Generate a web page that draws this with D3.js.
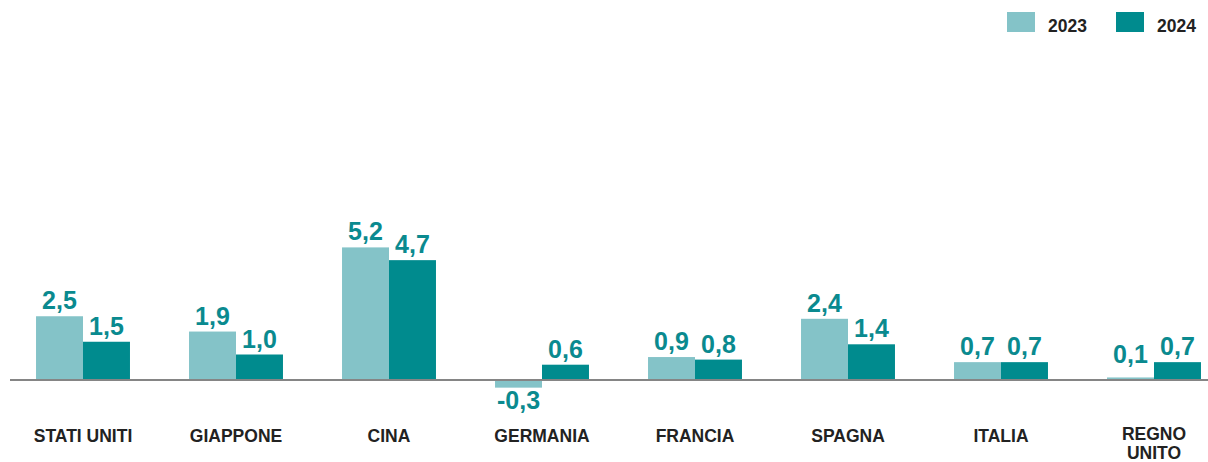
<!DOCTYPE html>
<html><head><meta charset="utf-8">
<script src="https://cdn.jsdelivr.net/npm/d3@7"></script>
<style>
html,body{margin:0;padding:0;background:#fff;}
svg{display:block;font-family:"Liberation Sans",Arial,Helvetica,sans-serif;}
</style></head>
<body>
<svg id="chart" width="1208" height="462"></svg>
<script>
const categories = ["STATI UNITI","GIAPPONE","CINA","GERMANIA","FRANCIA","SPAGNA","ITALIA","REGNO UNITO"];
const seriesNames = ["2023","2024"];
const values2023 = [2.5, 1.9, 5.2, -0.3, 0.9, 2.4, 0.7, 0.1];
const values2024 = [1.5, 1.0, 4.7, 0.6, 0.8, 1.4, 0.7, 0.7];

const colors = {"2023":"#84c3c8","2024":"#008b8e"};
const labelColor = "#0a8a8f";
const textColor = "#222222";

const svg = d3.select("#chart");

const x = d3.scaleBand().domain(categories).range([6.5, 1230.5]).paddingInner(0.386).paddingOuter(0.193);
const xs = d3.scaleBand().domain(seriesNames).range([0, x.bandwidth()]);
const y = d3.scaleLinear().domain([-1, 6]).range([405.5, 227]);

const data = categories.map((c,i)=>({cat:c, vals:[{s:"2023",v:values2023[i]},{s:"2024",v:values2024[i]}]}));

const fmt = v => d3.format(".1f")(v).replace(".", ",").replace("−","-");

const g = svg.selectAll("g.grp").data(data).join("g")
  .attr("class","grp")
  .attr("transform", d=>`translate(${x(d.cat)},0)`);

g.selectAll("rect").data(d=>d.vals).join("rect")
  .attr("x", d=>xs(d.s))
  .attr("width", xs.bandwidth())
  .attr("y", d=>Math.min(y(d.v), y(0)))
  .attr("height", d=>Math.abs(y(d.v)-y(0)))
  .attr("fill", d=>colors[d.s]);

g.selectAll("text.val").data(d=>d.vals).join("text")
  .attr("class","val")
  .attr("x", d=>xs(d.s)+xs.bandwidth()/2)
  .attr("y", d=> d.v>=0 ? Math.min(y(d.v)-7, y(0)-17) : y(d.v)+21)
  .attr("text-anchor","middle")
  .attr("font-size", 25)
  .attr("font-weight","bold")
  .attr("fill", labelColor)
  .text(d=>fmt(d.v));

// baseline
svg.append("line")
  .attr("x1", 10).attr("x2", 1208)
  .attr("y1", y(0)).attr("y2", y(0))
  .attr("stroke", "#858585").attr("stroke-width", 2);

// category labels
const xAxis = d3.axisBottom(x).tickSize(0).tickPadding(0);
const ax = svg.append("g").attr("transform", `translate(0,${y(0)})`).call(xAxis);
ax.select(".domain").remove();
ax.selectAll(".tick text").remove();
ax.selectAll(".tick").each(function(d){
  const words = d === "REGNO UNITO" ? ["REGNO","UNITO"] : [d];
  const t = d3.select(this).append("text")
    .attr("text-anchor","middle")
    .attr("font-size", 17.5)
    .attr("font-weight","bold")
    .attr("fill", textColor);
  words.forEach((w,i)=>{
    t.append("tspan").attr("x", 0).attr("y", (words.length > 1 ? 60 : 62) + i*19).text(w);
  });
});

// legend
const legend = svg.append("g");
const legendX = [1007, 1116];
seriesNames.forEach((s,i)=>{
  legend.append("rect").attr("x", legendX[i]).attr("y", 12).attr("width", 28).attr("height", 20).attr("fill", colors[s]);
  legend.append("text").attr("x", legendX[i]+41).attr("y", 32)
    .attr("font-size", 17.5).attr("font-weight","bold").attr("fill", textColor).text(s);
});
</script>
</body></html>
